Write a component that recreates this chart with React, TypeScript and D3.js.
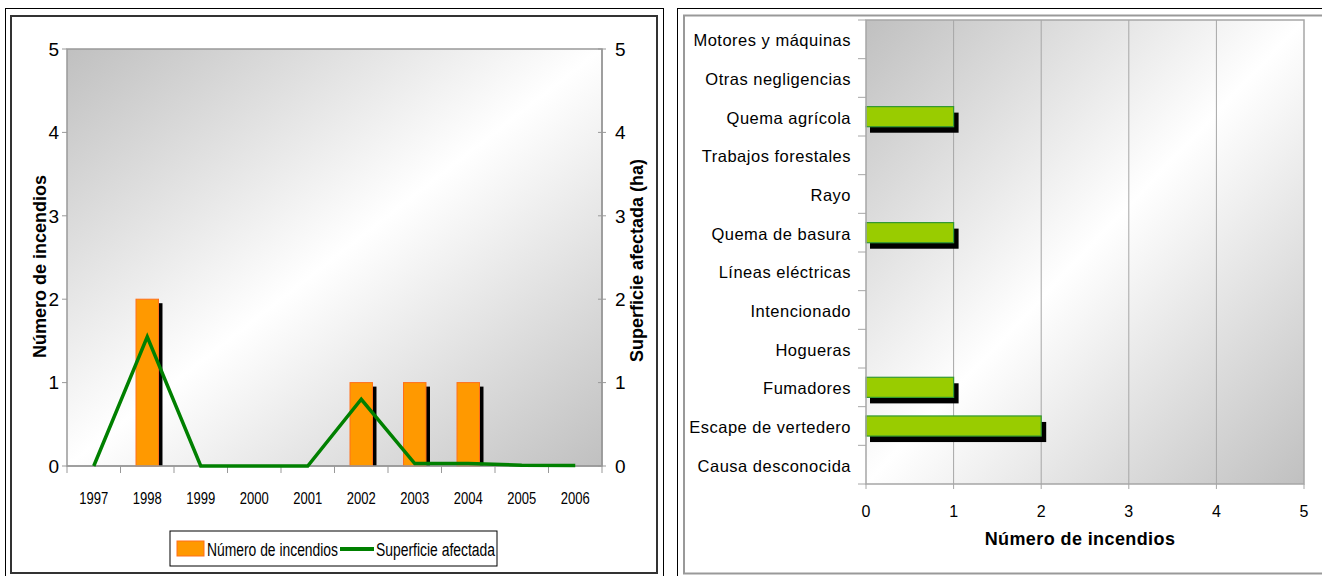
import React from "react";
import * as d3 from "d3";

const years = ["1997", "1998", "1999", "2000", "2001", "2002", "2003", "2004", "2005", "2006"];
const incendios = [0, 2, 0, 0, 0, 1, 1, 1, 0, 0];
const superficie = [0, 1.55, 0, 0, 0, 0.8, 0.03, 0.03, 0.01, 0.005];
const yTicks = [0, 1, 2, 3, 4, 5];

const causas = [
  "Motores y máquinas",
  "Otras negligencias",
  "Quema agrícola",
  "Trabajos forestales",
  "Rayo",
  "Quema de basura",
  "Líneas eléctricas",
  "Intencionado",
  "Hogueras",
  "Fumadores",
  "Escape de vertedero",
  "Causa desconocida",
];
const causaValues = [0, 0, 1, 0, 0, 1, 0, 0, 0, 1, 2, 0];
const xTicks = [0, 1, 2, 3, 4, 5];

const FONT = "'Liberation Sans', Arial, sans-serif";

function LeftChart() {
  const L = 67, R = 602, T = 49, B = 466;
  const x = d3.scaleBand().domain(years).range([L, R]);
  const y = d3.scaleLinear().domain([0, 5]).range([B, T]);
  const y2 = d3.scaleLinear().domain([0, 5]).range([B, T]);
  const bw = x.bandwidth() * 0.42;
  const line = d3
    .line<number>()
    .x((_, i) => (x(years[i]) as number) + x.bandwidth() / 2)
    .y((d) => y2(d));
  const boundaries = d3.range(years.length + 1).map((i) => L + i * x.step());
  return (
    <g>
      <rect x={L} y={T} width={R - L} height={B - T} fill="url(#gradL)" stroke="#999" strokeWidth={1.5} />
      {incendios.map((v, i) => {
        if (!v) return null;
        const cx = (x(years[i]) as number) + x.bandwidth() / 2;
        const top = y(v);
        return (
          <g key={i}>
            <rect x={cx - bw / 2 + 4} y={top + 4} width={bw} height={B - top - 4} fill="#000" />
            <rect x={cx - bw / 2} y={top} width={bw} height={B - top} fill="#FF9900" stroke="#FF6F1A" strokeWidth={1} />
          </g>
        );
      })}
      <line x1={L} x2={R} y1={B} y2={B} stroke="#999" strokeWidth={1.5} />
      {boundaries.map((bx, i) => (
        <line key={i} x1={bx} x2={bx} y1={B} y2={B + 7} stroke="#999" strokeWidth={1} />
      ))}
      {yTicks.map((t) => (
        <g key={t}>
          <line x1={L - 5} x2={L} y1={y(t)} y2={y(t)} stroke="#999" />
          <text x={L - 8} y={y(t)} dy="0.36em" textAnchor="end" fontSize={19} fontFamily={FONT}>
            {t}
          </text>
          <line x1={R - 4} x2={R + 4} y1={y2(t)} y2={y2(t)} stroke="#999" />
          <text x={R + 13} y={y2(t)} dy="0.36em" textAnchor="start" fontSize={19} fontFamily={FONT}>
            {t}
          </text>
        </g>
      ))}
      <line x1={R} x2={R} y1={T} y2={B} stroke="#999" strokeWidth={1.5} />
      <path d={line(superficie) || ""} fill="none" stroke="#008000" strokeWidth={3.5} strokeLinejoin="miter" />
      {years.map((yr) => (
        <text
          key={yr}
          x={(x(yr) as number) + x.bandwidth() / 2}
          y={504}
          textAnchor="middle"
          fontSize={17}
          fontFamily={FONT}
          textLength={29}
          lengthAdjust="spacingAndGlyphs"
        >
          {yr}
        </text>
      ))}
      <text
        transform={`translate(46,${(T + B) / 2 + 9}) rotate(-90)`}
        textAnchor="middle"
        fontSize={18}
        fontWeight="bold"
        fontFamily={FONT}
      >
        Número de incendios
      </text>
      <text
        transform={`translate(643,${(T + B) / 2 + 3}) rotate(-90)`}
        textAnchor="middle"
        fontSize={18}
        fontWeight="bold"
        fontFamily={FONT}
      >
        Superficie afectada (ha)
      </text>
      <rect x={170} y={531} width={327} height={35} fill="#fff" stroke="#000" strokeWidth={1} />
      <rect x={177} y={541} width={27} height={15} fill="#FF9900" stroke="#FF6F1A" />
      <text x={207} y={556} fontSize={18} fontFamily={FONT} textLength={131} lengthAdjust="spacingAndGlyphs">
        Número de incendios
      </text>
      <line x1={340} x2={374} y1={549} y2={549} stroke="#008000" strokeWidth={4} />
      <text x={376} y={556} fontSize={18} fontFamily={FONT} textLength={119} lengthAdjust="spacingAndGlyphs">
        Superficie afectada
      </text>
    </g>
  );
}

function RightChart() {
  const L = 866, R = 1304, T = 20, B = 484;
  const x = d3.scaleLinear().domain([0, 5]).range([L, R]);
  const y = d3.scaleBand().domain(causas).range([T, B]).paddingInner(0.48).paddingOuter(0.24);
  const step = (B - T) / causas.length;
  const boundaries = d3.range(causas.length + 1).map((i) => T + i * step);
  return (
    <g>
      <rect x={L} y={T} width={R - L} height={B - T} fill="url(#gradR)" />
      {xTicks.slice(1, -1).map((t) => (
        <line key={t} x1={x(t)} x2={x(t)} y1={T} y2={B} stroke="#A6A6A6" strokeWidth={1} />
      ))}
      {causaValues.map((v, i) => {
        if (!v) return null;
        const yy = y(causas[i]) as number;
        const h = y.bandwidth();
        return (
          <g key={i}>
            <rect x={x(0) + 4} y={yy + 6} width={x(v) - x(0) + 1} height={h} fill="#000" />
            <rect x={x(0)} y={yy} width={x(v) - x(0)} height={h} fill="#99CC00" stroke="#339933" strokeWidth={1.2} />
          </g>
        );
      })}
      <rect x={L} y={T} width={R - L} height={B - T} fill="none" stroke="#A6A6A6" strokeWidth={1.5} />
      {boundaries.map((by, i) => (
        <line key={i} x1={L - 8} x2={L} y1={by} y2={by} stroke="#A6A6A6" />
      ))}
      {xTicks.map((t) => (
        <g key={t}>
          <line x1={x(t)} x2={x(t)} y1={B} y2={B + 5} stroke="#A6A6A6" />
          <text x={x(t)} y={517} textAnchor="middle" fontSize={16} fontFamily={FONT}>
            {t}
          </text>
        </g>
      ))}
      {causas.map((c) => (
        <text
          key={c}
          x={851}
          y={(y(c) as number) + y.bandwidth() / 2 + 1}
          dy="0.36em"
          textAnchor="end"
          fontSize={16.5}
          fontFamily={FONT}
          letterSpacing={0.5}
        >
          {c}
        </text>
      ))}
      <text x={(L + R) / 2 - 5} y={545} textAnchor="middle" fontSize={18} fontWeight="bold" fontFamily={FONT} letterSpacing={0.4}>
        Número de incendios
      </text>
    </g>
  );
}

export default function App() {
  return (
    <svg
      width={1322}
      height={576}
      style={{ position: "absolute", left: 0, top: 0, background: "#fff" }}
    >
      <defs>
        <linearGradient id="gradL" x1="0" y1="0" x2="1" y2="1">
          <stop offset="0" stopColor="#C0C0C0" />
          <stop offset="0.5" stopColor="#FFFFFF" />
          <stop offset="1" stopColor="#C0C0C0" />
        </linearGradient>
        <linearGradient id="gradR" x1="0" y1="0" x2="1" y2="1">
          <stop offset="0" stopColor="#C0C0C0" />
          <stop offset="0.5" stopColor="#FFFFFF" />
          <stop offset="1" stopColor="#C0C0C0" />
        </linearGradient>
      </defs>
      <rect x={5.5} y={8.5} width={658} height={580} fill="none" stroke="#000" strokeWidth={1} />
      <rect x={11} y={16} width={646} height={557} fill="none" stroke="#333" strokeWidth={2} />
      <rect x={677.5} y={8.5} width={680} height={580} fill="none" stroke="#000" strokeWidth={1} />
      <rect x={684} y={15.5} width={660} height={558} fill="none" stroke="#999" strokeWidth={2} />
      <LeftChart />
      <RightChart />
    </svg>
  );
}
